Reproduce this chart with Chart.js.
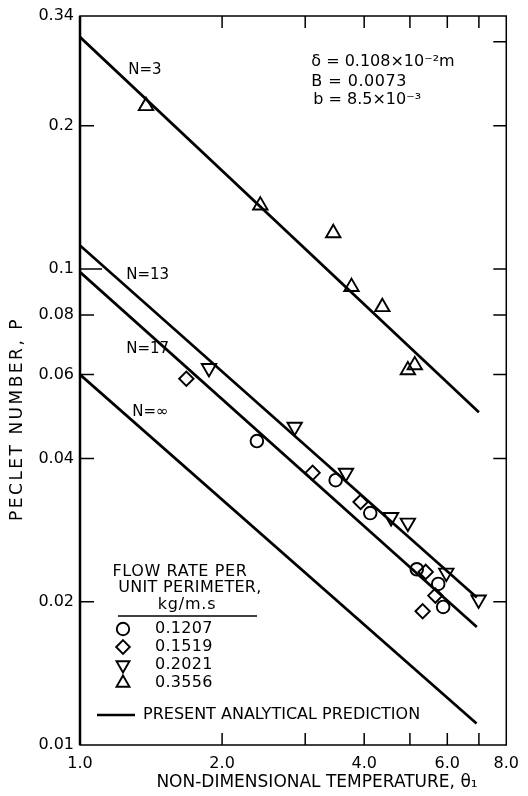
<!DOCTYPE html>
<html>
<head>
<meta charset="utf-8">
<script src="https://cdn.jsdelivr.net/npm/chart.js@4/dist/chart.umd.min.js"></script>
<style>
  html, body { margin: 0; padding: 0; background: #fff; }
  canvas { display: block; }
</style>
</head>
<body>
<canvas id="c" width="528" height="796"></canvas>
<script>
'use strict';

// ─── Axes ────────────────────────────────────────────────────────────────────
const X_TICKS       = [1, 2, 4, 6, 8];
const X_TICK_LABELS = ['1.0', '2.0', '4.0', '6.0', '8.0'];
const X_MARKS       = [2, 3, 4, 5, 6, 7];
const Y_TICKS       = [0.01, 0.02, 0.04, 0.06, 0.08, 0.1, 0.2, 0.34];
const Y_TICK_LABELS = ['0.01', '0.02', '0.04', '0.06', '0.08', '0.1', '0.2', '0.34'];
const Y_LEFT_MARKS  = [0.02, 0.04, 0.06, 0.08, 0.1, 0.2];
const Y_RIGHT_MARKS = [0.02, 0.04, 0.06, 0.08, 0.1, 0.2, 0.3];

// ─── Analytical prediction lines (theta start/end, P start/end) ─────────────
const LINE_N  = ['N=3', 'N=13', 'N=17', 'N=\u221E'];
const LINE_X  = [[1.0, 7.0], [1.0, 6.93], [1.0, 6.93], [1.0, 6.92]];
const LINE_P  = [[0.307, 0.050], [0.112, 0.0204], [0.0985, 0.0177], [0.060, 0.0111]];
const LABEL_X = [1.265, 1.253, 1.253, 1.29];
const LABEL_P = [0.262, 0.0971, 0.0679, 0.0501];

// ─── Experimental points, by flow rate per unit perimeter ───────────────────
const FLOW_RATES = ['0.1207', '0.1519', '0.2021', '0.3556'];
const CIRCLE_X   = [2.37, 3.48, 4.12, 5.17, 5.74, 5.88];
const CIRCLE_P   = [0.0435, 0.0360, 0.0307, 0.0234, 0.0218, 0.0195];
const DIAMOND_X  = [1.68, 3.11, 3.93, 5.40, 5.66, 5.32];
const DIAMOND_P  = [0.0588, 0.0373, 0.0324, 0.0231, 0.0206, 0.0191];
const TRI_DN_X   = [1.876, 2.85, 3.66, 4.56, 4.95, 5.97, 6.99];
const TRI_DN_P   = [0.0619, 0.0466, 0.0373, 0.0301, 0.0293, 0.0230, 0.0202];
const TRI_UP_X   = [1.38, 2.41, 3.44, 3.76, 4.37, 5.12, 4.95];
const TRI_UP_P   = [0.220, 0.136, 0.119, 0.0917, 0.0832, 0.0628, 0.0613];

const FONT = '"DejaVu Sans", sans-serif';
const INK  = '#000';

// ─── Helpers ─────────────────────────────────────────────────────────────────
const pts = (xs, ys) => xs.map((x, i) => ({ x, y: ys[i] }));

function markerSet(label, xs, ys, style, radius, rotation) {
  return {
    label, data: pts(xs, ys), showLine: false,
    pointStyle: style, pointRadius: radius, pointHoverRadius: radius,
    rotation: rotation || 0,
    pointBorderColor: INK, pointBackgroundColor: 'rgba(0,0,0,0)', pointBorderWidth: 1.9,
  };
}

function lineSet(i) {
  return {
    label: LINE_N[i],
    data: pts(LINE_X[i], LINE_P[i]),
    showLine: true, borderColor: INK, borderWidth: 2.7,
    pointRadius: 0, pointHoverRadius: 0,
  };
}

function txt(ctx, s, x, y, size, align, spacing) {
  ctx.font = `${size}px ${FONT}`;
  ctx.letterSpacing = (spacing || 0) + 'px';
  ctx.textAlign = align || 'left';
  ctx.textBaseline = 'middle';
  ctx.fillStyle = INK;
  ctx.fillText(s, x, y);
  ctx.letterSpacing = '0px';
}

function mark(ctx, style, x, y, r) {
  ctx.beginPath();
  if (style === 'circle') {
    ctx.arc(x, y, r, 0, Math.PI * 2);
  } else if (style === 'diamond') {
    ctx.moveTo(x, y - r); ctx.lineTo(x + r, y); ctx.lineTo(x, y + r); ctx.lineTo(x - r, y);
    ctx.closePath();
  } else {
    const s = style === 'up' ? 1 : -1;
    ctx.moveTo(x, y - s * r);
    ctx.lineTo(x + r * 0.866, y + s * r / 2);
    ctx.lineTo(x - r * 0.866, y + s * r / 2);
    ctx.closePath();
  }
  ctx.stroke();
}

// ─── Frame, inner ticks and annotations ─────────────────────────────────────
const decor = {
  id: 'decor',
  afterDraw(chart) {
    const { ctx, chartArea: a, scales: { x, y } } = chart;
    ctx.save();
    ctx.strokeStyle = INK;

    // frame
    ctx.lineWidth = 1.5;
    ctx.strokeRect(a.left, a.top, a.right - a.left, a.bottom - a.top);
    ctx.lineWidth = 2.5;
    ctx.beginPath(); ctx.moveTo(a.left, a.top); ctx.lineTo(a.left, a.bottom); ctx.stroke();

    // inner tick marks
    ctx.lineWidth = 1.5;
    ctx.beginPath();
    X_MARKS.forEach(v => {
      const px = x.getPixelForValue(v);
      ctx.moveTo(px, a.bottom); ctx.lineTo(px, a.bottom - 12);
      ctx.moveTo(px, a.top);    ctx.lineTo(px, a.top + 12);
    });
    Y_LEFT_MARKS.forEach(v => {
      const py = y.getPixelForValue(v);
      ctx.moveTo(a.left, py); ctx.lineTo(a.left + (v === 0.1 ? 22 : 14), py);
    });
    Y_RIGHT_MARKS.forEach(v => {
      const py = y.getPixelForValue(v);
      ctx.moveTo(a.right, py); ctx.lineTo(a.right - 13, py);
    });
    ctx.stroke();

    // line labels
    LINE_N.forEach((n, i) => {
      txt(ctx, n, x.getPixelForValue(LABEL_X[i]), y.getPixelForValue(LABEL_P[i]), 15, 'left');
    });

    // parameters
    const px0 = x.getPixelForValue(3.09);
    txt(ctx, '\u03B4 = 0.108\u00D710\u207B\u00B2m', px0, y.getPixelForValue(0.272), 16, 'left');
    txt(ctx, 'B = 0.0073', px0, y.getPixelForValue(0.247), 16, 'left', 0.5);
    txt(ctx, 'b = 8.5\u00D710\u207B\u00B3', px0 + 2, y.getPixelForValue(0.2265), 16, 'left');

    // legend block
    const L = a.left, B = a.bottom;
    txt(ctx, 'FLOW RATE PER', L + 100, B - 173, 16, 'center', 0.6);
    txt(ctx, 'UNIT PERIMETER,', L + 110, B - 157, 16, 'center', 0.3);
    txt(ctx, 'kg/m.s', L + 107, B - 140, 16, 'center', 0.8);
    ctx.lineWidth = 1.5;
    ctx.beginPath(); ctx.moveTo(L + 38, B - 129); ctx.lineTo(L + 177, B - 129); ctx.stroke();

    const styles = ['circle', 'diamond', 'down', 'up'];
    const radii  = [6.2, 6.8, 7.5, 7.5];
    ctx.lineWidth = 1.9;
    FLOW_RATES.forEach((f, i) => {
      const ly = B - 116 + i * 18;
      mark(ctx, styles[i], L + 43, ly, radii[i]);
      txt(ctx, f, L + 75, ly, 16, 'left', 0.3);
    });

    ctx.lineWidth = 2.7;
    ctx.beginPath(); ctx.moveTo(L + 17, B - 30); ctx.lineTo(L + 55, B - 30); ctx.stroke();
    txt(ctx, 'PRESENT ANALYTICAL PREDICTION', L + 63, B - 30, 16, 'left');

    // axis titles
    txt(ctx, 'NON-DIMENSIONAL TEMPERATURE, \u03B8\u2081', 317, B + 38, 17, 'center', 0);
    ctx.translate(18, 419);
    ctx.rotate(-Math.PI / 2);
    txt(ctx, 'PECLET NUMBER, P', 0, 0, 17, 'center', 2.5);

    ctx.restore();
  },
};

// ─── Chart ───────────────────────────────────────────────────────────────────
new Chart(document.getElementById('c').getContext('2d'), {
  type: 'scatter',
  data: {
    datasets: [
      ...LINE_N.map((_, i) => lineSet(i)),
      markerSet(FLOW_RATES[0], CIRCLE_X,  CIRCLE_P,  'circle',   6.3),
      markerSet(FLOW_RATES[1], DIAMOND_X, DIAMOND_P, 'rectRot',  7.2),
      markerSet(FLOW_RATES[2], TRI_DN_X,  TRI_DN_P,  'triangle', 8.3, 180),
      markerSet(FLOW_RATES[3], TRI_UP_X,  TRI_UP_P,  'triangle', 8.3),
    ],
  },
  options: {
    responsive: false,
    animation: false,
    layout: { padding: { top: 16, right: 15, left: 0, bottom: 0 } },
    plugins: { legend: { display: false }, tooltip: { enabled: false } },
    scales: {
      x: {
        type: 'logarithmic', min: 1, max: 8,
        grid: { display: false, drawTicks: false },
        border: { display: false },
        afterBuildTicks: s => { s.ticks = X_TICKS.map(v => ({ value: v })); },
        afterFit: s => { s.height = 51; },
        ticks: {
          autoSkip: false, maxRotation: 0, padding: 9, color: INK,
          font: { family: FONT, size: 16 },
          callback: (v, i) => X_TICK_LABELS[i],
        },
      },
      y: {
        type: 'logarithmic', min: 0.01, max: 0.34,
        grid: { display: false, drawTicks: false },
        border: { display: false },
        afterBuildTicks: s => { s.ticks = Y_TICKS.map(v => ({ value: v })); },
        afterFit: s => { s.width = 80; },
        ticks: {
          autoSkip: false, padding: 6, color: INK,
          font: { family: FONT, size: 16 },
          callback: (v, i) => Y_TICK_LABELS[i],
        },
      },
    },
  },
  plugins: [decor],
});
</script>
</body>
</html>
